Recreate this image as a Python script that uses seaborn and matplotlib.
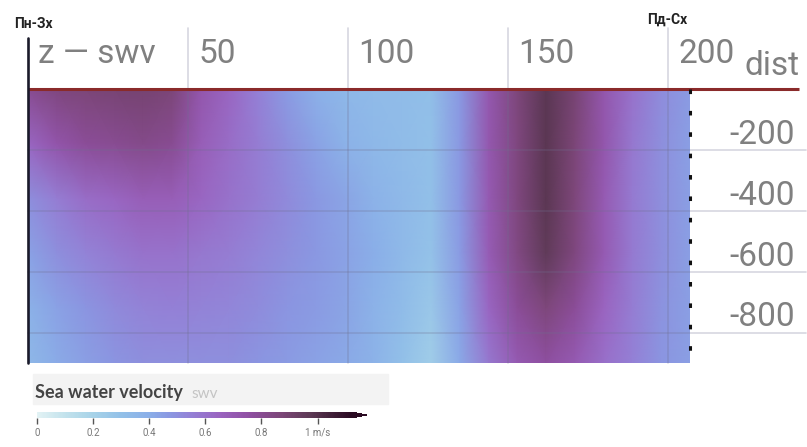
import numpy as np
import pandas as pd
import matplotlib
matplotlib.use("Agg")
import matplotlib.pyplot as plt
from matplotlib.colors import LinearSegmentedColormap
from matplotlib.patches import Rectangle
import seaborn as sns

# section: distance (columns) and depth (rows)
dist = [0, 9, 18, 27, 36, 45, 54, 63, 72, 81, 90, 99, 108, 117,
        126, 135, 144, 153, 162, 171, 180, 189, 198, 207]
depth = [0, -180, -360, -540, -720, -900]

# sea water velocity (m/s), one row per depth
swv = [
    [0.80, 0.85, 0.87, 0.88, 0.89, 0.87, 0.72, 0.64, 0.55, 0.46, 0.39, 0.35,
     0.33, 0.32, 0.31, 0.47, 0.71, 0.86, 0.98, 0.88, 0.72, 0.60, 0.51, 0.46],
    [0.64, 0.73, 0.78, 0.80, 0.82, 0.80, 0.68, 0.62, 0.56, 0.50, 0.44, 0.38,
     0.35, 0.32, 0.30, 0.47, 0.71, 0.85, 0.98, 0.87, 0.72, 0.58, 0.50, 0.45],
    [0.50, 0.56, 0.62, 0.64, 0.68, 0.68, 0.64, 0.60, 0.56, 0.52, 0.47, 0.43,
     0.38, 0.34, 0.30, 0.47, 0.70, 0.85, 0.98, 0.86, 0.70, 0.57, 0.50, 0.45],
    [0.44, 0.50, 0.54, 0.57, 0.60, 0.60, 0.58, 0.56, 0.53, 0.50, 0.47, 0.44,
     0.40, 0.34, 0.29, 0.46, 0.69, 0.84, 0.96, 0.85, 0.70, 0.57, 0.50, 0.45],
    [0.38, 0.44, 0.48, 0.52, 0.54, 0.55, 0.54, 0.53, 0.51, 0.48, 0.46, 0.43,
     0.38, 0.32, 0.26, 0.44, 0.64, 0.78, 0.86, 0.78, 0.65, 0.56, 0.49, 0.45],
    [0.35, 0.41, 0.45, 0.48, 0.50, 0.50, 0.50, 0.50, 0.48, 0.46, 0.44, 0.42,
     0.38, 0.30, 0.23, 0.42, 0.58, 0.70, 0.76, 0.70, 0.61, 0.55, 0.48, 0.45],
]

dist_ticks = [50, 100, 150, 200]
depth_ticks = [-200, -400, -600, -800]
cbar_ticks = [0, 0.2, 0.4, 0.6, 0.8, 1.0]
cbar_labels = ["0", "0.2", "0.4", "0.6", "0.8", "1 m/s"]

# colour scale
vmax = 1.12
cmap_stops = [0, 0.10, 0.20, 0.30, 0.40, 0.47, 0.55, 0.65, 0.75, 0.87, 0.97, 1.12]
cmap_colors = ["#e2f2f4", "#c2e2ec", "#a6d2e8", "#92c0e8", "#8aaee8", "#8a98e2",
               "#9480d6", "#9a64c0", "#9050a4", "#7c4678", "#5e3a56", "#2a0a22"]
cmap = LinearSegmentedColormap.from_list(
    "swv", list(zip(np.array(cmap_stops) / vmax, cmap_colors)))

sns.set_theme(style="white")
plt.rcParams["font.family"] = ["Roboto", "DejaVu Sans"]

W, H = 807, 447
fig = plt.figure(figsize=(W / 100, H / 100), dpi=100)

def box(x0, y0, x1, y1):
    # pixel box -> figure fraction
    return [x0 / W, 1 - y1 / H, (x1 - x0) / W, (y1 - y0) / H]

# smooth section drawn by seaborn (gouraud shading between nodes)
df = pd.DataFrame(swv, index=depth, columns=dist)
hax = fig.add_axes(box(28, 89, 690, 363))
sns.heatmap(df, ax=hax, cmap=cmap, vmin=0, vmax=vmax, cbar=False,
            xticklabels=False, yticklabels=False, shading="gouraud")
hax.set_xlim(0, len(dist) - 1)
hax.set_ylim(len(depth) - 1, 0)
hax.set_axis_off()
mesh = hax.collections[0]

# overlay axes in data units (dist, depth)
ax = fig.add_axes(box(28, 89, 807, 363))
ax.set_xlim(0, 779 / 3.2)
ax.set_ylim(-900, 0)
ax.patch.set_visible(False)
ax.set_axis_off()

label_kw = dict(fontsize=24, color="#808080", va="baseline", clip_on=False)
grid_kw = dict(color="#6f6f8f", alpha=0.28, lw=1.2, clip_on=False)
for d in dist_ticks:
    ax.plot([d, d], [200, -900], **grid_kw)
    ax.text(d + 3.2, 85, str(d), ha="left", **label_kw)
for z in depth_ticks:
    ax.plot([0, 243], [z, z], **grid_kw)
    ax.text(239.7, z + 20, str(z), ha="right", **label_kw)

ax.text(3, 85, "z — swv", ha="left", **label_kw)
ax.text(224, 46, "dist", ha="left", **label_kw)

ax.plot([0, 241], [0, 0], color="#8a2a2a", lw=2.2, clip_on=False,
        solid_capstyle="butt")
ax.plot([0, 0], [167, -900], color="#1a1a2a", lw=1.9, clip_on=False)
ax.plot([207, 207], [0, -900], color="#111111", lw=2.2,
        linestyle=(0, (1.5, 5.5)), clip_on=False)

fig.text(33 / W, 1 - 24 / H, "Пн-Зх", fontsize=10, fontweight="bold",
         color="#222222", ha="center", va="center")
fig.text(667 / W, 1 - 20 / H, "Пд-Сх", fontsize=10, fontweight="bold",
         color="#222222", ha="center", va="center")

# legend / colour bar
fig.patches.append(Rectangle((33 / W, 1 - 404 / H), (388 - 33) / W, 30 / H,
                             transform=fig.transFigure, color="#f3f3f3",
                             zorder=0))
fig.text(35 / W, 1 - 398 / H, "Sea water velocity", family="Lato",
         fontweight="bold", fontsize=13, color="#444444", va="baseline")
fig.text(191 / W, 1 - 398 / H, "swv", family="Lato", fontsize=11,
         color="#c4c4c4", va="baseline")

cax = fig.add_axes(box(37, 412, 367, 418))
cbar = fig.colorbar(mesh, cax=cax, orientation="horizontal", extend="max")
cbar.outline.set_visible(False)
cbar.set_ticks(cbar_ticks)
cbar.set_ticklabels(cbar_labels)
cax.tick_params(axis="x", length=4, width=1, color="#555555",
                labelsize=7, labelcolor="#777777", pad=3, bottom=True)

fig.savefig("out.png", dpi=100)
